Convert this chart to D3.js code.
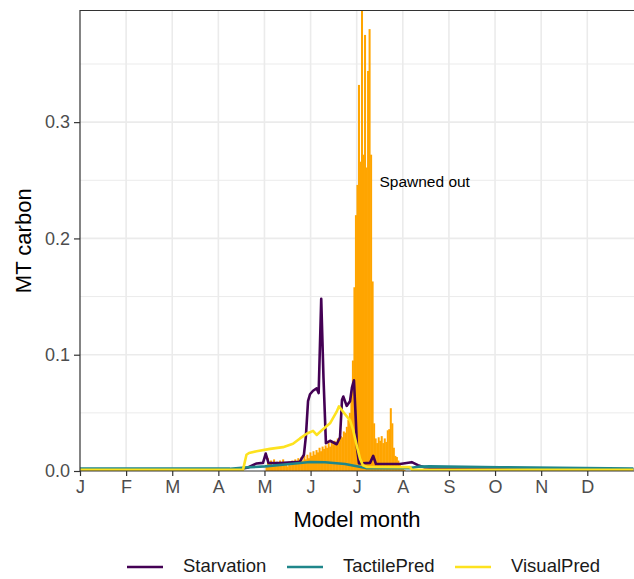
<!DOCTYPE html>
<html>
<head>
<meta charset="utf-8">
<script src="https://cdn.jsdelivr.net/npm/d3@7"></script>
<style>
  body { margin: 0; background: #fff; }
  text { font-family: "Liberation Sans", Arial, sans-serif; }
</style>
</head>
<body>
<div id="chart"></div>
<script>
// month tick labels
var monthLabels = ["J", "F", "M", "A", "M", "J", "J", "A", "S", "O", "N", "D"];
var yTicks = [0.0, 0.1, 0.2, 0.3];

// daily "spawned out" bars, starting at day 123
var spawnStart = 123;
var spawnValues = [
  0.004, 0.011, 0.006, 0.009, 0.005, 0.010, 0.006, 0.008, 0.005, 0.009,
  0.006, 0.010, 0.005, 0.007, 0.004, 0.008, 0.005, 0.009, 0.006, 0.010,
  0.007, 0.011, 0.008, 0.012, 0.009, 0.013, 0.010, 0.014, 0.011, 0.016,
  0.013, 0.017, 0.014, 0.018, 0.016, 0.020, 0.017, 0.021, 0.019, 0.022,
  0.020, 0.024, 0.021, 0.025, 0.023, 0.026, 0.024, 0.028, 0.026, 0.030,
  0.029, 0.034, 0.033, 0.038, 0.044, 0.050, 0.067, 0.095, 0.158, 0.220,
  0.246, 0.332, 0.266, 0.420, 0.272, 0.375, 0.261, 0.344, 0.380, 0.272,
  0.163, 0.041, 0.028, 0.024, 0.029, 0.026, 0.030, 0.024, 0.028, 0.025,
  0.035, 0.036, 0.054, 0.041, 0.020, 0.013, 0.012, 0.009, 0.005, 0.003,
  0.002, 0.001
];

// mortality lines: [day of year, MT carbon]
var starvation = [
  [0, 0.0015], [105.5, 0.0015], [110.8, 0.003], [116.5, 0.0065], [120.7, 0.007],
  [122.5, 0.015], [124.3, 0.007], [131.9, 0.0068], [145, 0.008], [147.7, 0.014],
  [149, 0.03], [150.4, 0.06], [151.7, 0.066], [153.7, 0.069], [156.1, 0.071],
  [157.4, 0.067], [159.1, 0.148], [160.6, 0.08], [162.2, 0.024], [164.9, 0.026],
  [169.3, 0.023], [171.5, 0.029], [172.8, 0.061], [173.7, 0.064], [175.9, 0.056],
  [178.1, 0.06], [179.4, 0.072], [180.7, 0.078], [181.7, 0.05], [182.7, 0.02],
  [184, 0.0065], [191.3, 0.007], [193.4, 0.013], [195.2, 0.006], [211, 0.006],
  [218.8, 0.0076], [222.9, 0.005], [227.5, 0.003], [244, 0.002], [365, 0.0015]
];
var tactilePred = [
  [0, 0.002], [98.9, 0.002], [108.8, 0.003], [122, 0.004], [138.5, 0.006],
  [151.7, 0.0078], [161.6, 0.0075], [174.8, 0.006], [188.6, 0.0025], [217.6, 0.0025],
  [224.2, 0.0038], [230.8, 0.004], [277, 0.0032], [365, 0.002]
];
var visualPred = [
  [0, 0.001], [107.5, 0.001], [109.8, 0.014], [111.5, 0.0155], [116.5, 0.017],
  [125.3, 0.019], [133.9, 0.0205], [140.5, 0.0234], [145.1, 0.028], [149.5, 0.032],
  [153.7, 0.0345], [156.1, 0.031], [160.3, 0.036], [164.9, 0.041], [169.3, 0.051],
  [170.8, 0.0556], [173.5, 0.051], [178.1, 0.0435], [180, 0.036], [182.5, 0.022],
  [184.7, 0.0105], [186.6, 0.005], [189.3, 0.0035], [217.6, 0.0033], [219, 0.001],
  [365, 0.001]
];

var series = [
  { name: "Starvation", color: "#440154", values: starvation },
  { name: "TactilePred", color: "#1F868A", values: tactilePred },
  { name: "VisualPred", color: "#FDE21F", values: visualPred }
];

var W = 634, H = 579;
var margin = { top: 10.5, right: 0, bottom: 108, left: 80 };
var width = W - margin.left - margin.right,
    height = H - margin.top - margin.bottom;

var svg = d3.select("#chart").append("svg")
  .attr("width", W).attr("height", H);

var g = svg.append("g")
  .attr("transform", "translate(" + margin.left + "," + margin.top + ")");

var x = d3.scaleLinear().domain([0, 365]).range([0, 553.4]);
var y = d3.scaleLinear().domain([0, 0.396]).range([height, 0]);

var monthTicks = monthLabels.map(function(d, i) { return i * 365 / 12; });

g.append("defs").append("clipPath").attr("id", "clip")
  .append("rect").attr("width", width + 2).attr("height", height);

// grid
var grid = g.append("g");
grid.selectAll(".ymin").data([0.05, 0.15, 0.25, 0.35]).enter().append("line")
  .attr("x1", 0).attr("x2", width + 2)
  .attr("y1", function(d) { return y(d); }).attr("y2", function(d) { return y(d); })
  .attr("stroke", "#ebebeb").attr("stroke-width", 1);
grid.selectAll(".ymaj").data(yTicks.slice(1)).enter().append("line")
  .attr("x1", 0).attr("x2", width + 2)
  .attr("y1", function(d) { return y(d); }).attr("y2", function(d) { return y(d); })
  .attr("stroke", "#ebebeb").attr("stroke-width", 1.6);
grid.selectAll(".xmaj").data(monthTicks.slice(1)).enter().append("line")
  .attr("y1", 0).attr("y2", height)
  .attr("x1", function(d) { return x(d); }).attr("x2", function(d) { return x(d); })
  .attr("stroke", "#ebebeb").attr("stroke-width", 1.6);

var plot = g.append("g").attr("clip-path", "url(#clip)");

// spawned out bars (slight overlap so no hairline gaps)
var dayW = x(1) - x(0);
plot.selectAll(".bar").data(spawnValues).enter().append("rect")
  .attr("x", function(d, i) { return x(spawnStart + i - 0.5) - 0.25; })
  .attr("width", dayW + 0.5)
  .attr("y", function(d) { return y(d); })
  .attr("height", function(d) { return height - y(d); })
  .attr("fill", "#FFA500");

var line = d3.line()
  .x(function(d) { return x(d[0]); })
  .y(function(d) { return y(d[1]); });

plot.selectAll(".series").data(series).enter().append("path")
  .attr("d", function(d) { return line(d.values); })
  .attr("fill", "none")
  .attr("stroke", function(d) { return d.color; })
  .attr("stroke-width", 2.6)
  .attr("stroke-linejoin", "round");

// annotation
g.append("text")
  .attr("x", x(197.5)).attr("y", y(0.248))
  .attr("font-size", "15.5px").attr("fill", "#000")
  .attr("dominant-baseline", "middle")
  .text("Spawned out");

// border
g.append("path")
  .attr("d", "M" + (width + 2) + ",0H0V" + height + "H" + (width + 2))
  .attr("fill", "none").attr("stroke", "#333").attr("stroke-width", 1.2);

// axes
var xAxis = g.append("g")
  .attr("transform", "translate(0," + height + ")")
  .call(d3.axisBottom(x).tickValues(monthTicks)
    .tickFormat(function(d, i) { return monthLabels[i]; })
    .tickSize(5).tickPadding(4));
var yAxis = g.append("g")
  .call(d3.axisLeft(y).tickValues(yTicks).tickFormat(d3.format(".1f"))
    .tickSize(6).tickPadding(4));
[xAxis, yAxis].forEach(function(a) {
  a.select(".domain").remove();
  a.selectAll(".tick line").attr("stroke", "#333").attr("stroke-width", 1.2);
  a.selectAll(".tick text").attr("fill", "#4d4d4d")
    .style("font-size", "18px")
    .style("font-family", "'Liberation Sans', Arial, sans-serif");
});

// axis titles
svg.append("text")
  .attr("x", margin.left + width / 2).attr("y", 527)
  .attr("text-anchor", "middle").attr("font-size", "22px").attr("fill", "#000")
  .text("Model month");
svg.append("text")
  .attr("transform", "translate(31," + (margin.top + height / 2) + ") rotate(-90)")
  .attr("text-anchor", "middle").attr("font-size", "22px").attr("fill", "#000")
  .text("MT carbon");

// legend
var legendX = [127, 287, 455];
var legend = svg.selectAll(".leg").data(series).enter().append("g")
  .attr("transform", function(d, i) { return "translate(" + legendX[i] + ",567)"; });
legend.append("line")
  .attr("x1", 0).attr("x2", 36)
  .attr("stroke", function(d) { return d.color; }).attr("stroke-width", 2.6);
legend.append("text")
  .attr("x", 56).attr("dominant-baseline", "middle")
  .attr("font-size", "18.5px").attr("fill", "#1a1a1a")
  .text(function(d) { return d.name; });
</script>
</body>
</html>
